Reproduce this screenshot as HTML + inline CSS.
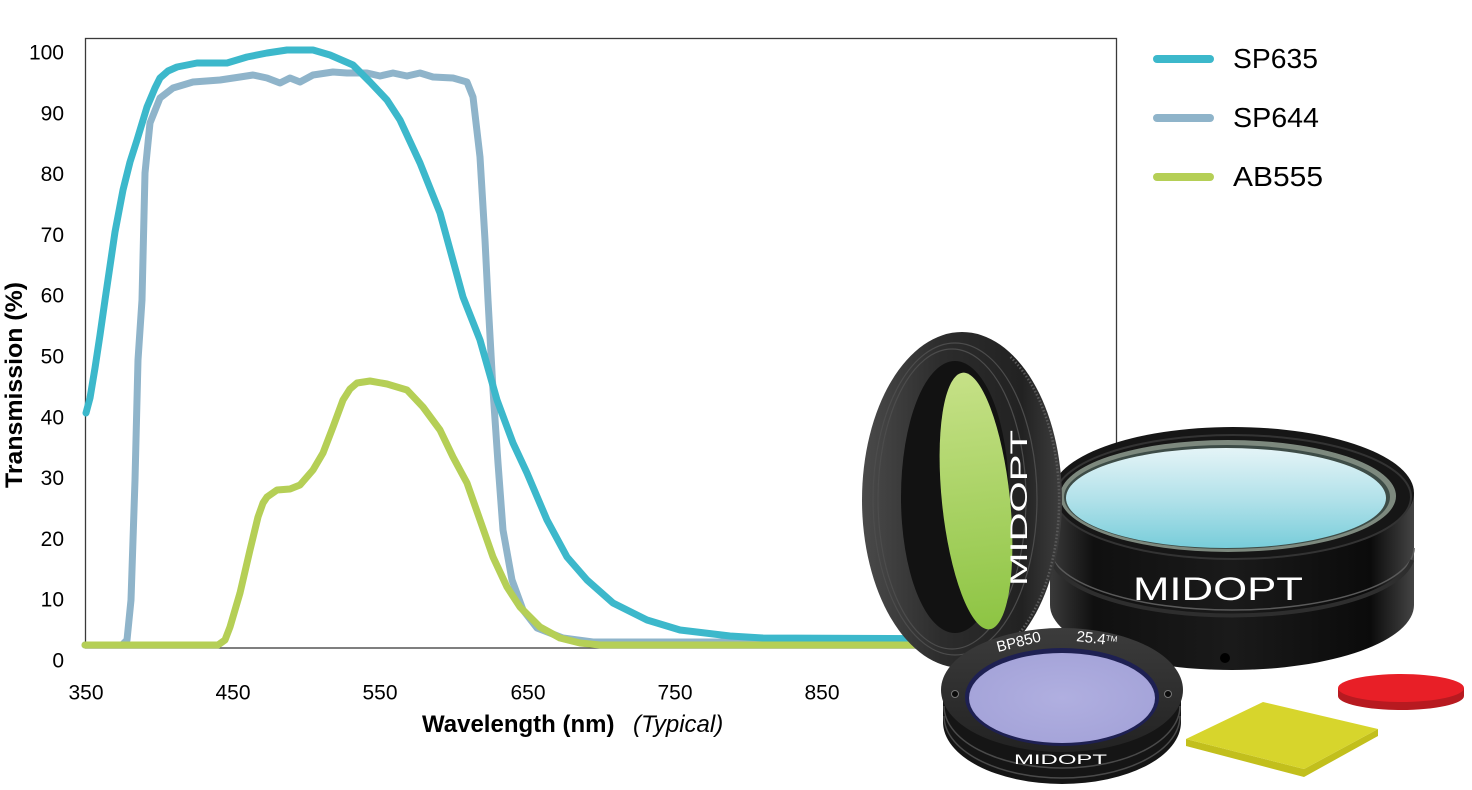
<!DOCTYPE html>
<html><head><meta charset="utf-8"><style>
html,body{margin:0;padding:0;background:#fff;}
svg{display:block;}
text{font-family:"Liberation Sans",Arial,sans-serif;}
</style></head><body>
<svg width="1472" height="790" viewBox="0 0 1472 790" xmlns="http://www.w3.org/2000/svg">
<defs>
<linearGradient id="cyan" x1="0" y1="0" x2="0" y2="1"><stop offset="0" stop-color="#e4f4f7"/><stop offset="0.5" stop-color="#b3e2ea"/><stop offset="1" stop-color="#78cdda"/></linearGradient>
<linearGradient id="body" x1="0" y1="0" x2="1" y2="0"><stop offset="0" stop-color="#3a3a3a"/><stop offset="0.12" stop-color="#101010"/><stop offset="0.5" stop-color="#1a1a1a"/><stop offset="0.88" stop-color="#0b0b0b"/><stop offset="1" stop-color="#444"/></linearGradient>
<linearGradient id="ring" x1="0" y1="0" x2="1" y2="0"><stop offset="0" stop-color="#4a4a4a"/><stop offset="0.4" stop-color="#2c2c2c"/><stop offset="0.8" stop-color="#222"/><stop offset="1" stop-color="#3e3e3e"/></linearGradient>
<linearGradient id="green" x1="0" y1="0" x2="0" y2="1"><stop offset="0" stop-color="#c6e187"/><stop offset="1" stop-color="#8dc443"/></linearGradient>
<linearGradient id="pface" x1="0" y1="0" x2="0" y2="1"><stop offset="0" stop-color="#3c3c3c"/><stop offset="1" stop-color="#222"/></linearGradient>
<radialGradient id="purple" cx="0.5" cy="0.5" r="0.6"><stop offset="0" stop-color="#b0afe0"/><stop offset="1" stop-color="#a3a2d8"/></radialGradient>
</defs>

<!-- plot frame -->
<rect x="85.5" y="38.5" width="1031" height="609.5" fill="#fff" stroke="#3a3a3a" stroke-width="1.3"/>

<!-- y tick labels -->
<g font-size="21" fill="#000" text-anchor="end">
<text x="64" y="59.5">100</text>
<text x="64" y="120.3">90</text>
<text x="64" y="181.1">80</text>
<text x="64" y="241.9">70</text>
<text x="64" y="302.7">60</text>
<text x="64" y="363.5">50</text>
<text x="64" y="424.3">40</text>
<text x="64" y="485.1">30</text>
<text x="64" y="545.9">20</text>
<text x="64" y="606.7">10</text>
<text x="64" y="667.5">0</text>
</g>
<!-- x tick labels -->
<g font-size="21" fill="#000" text-anchor="middle">
<text x="86" y="699.5">350</text>
<text x="233" y="699.5">450</text>
<text x="380" y="699.5">550</text>
<text x="528" y="699.5">650</text>
<text x="675" y="699.5">750</text>
<text x="822" y="699.5">850</text>
</g>
<!-- axis titles -->
<text x="422" y="732" font-size="24" font-weight="bold" fill="#000">Wavelength (nm)</text>
<text x="633" y="732" font-size="24" font-style="italic" fill="#000">(Typical)</text>
<text transform="translate(22,385) rotate(-90)" text-anchor="middle" font-size="24" font-weight="bold" fill="#000" textLength="206" lengthAdjust="spacingAndGlyphs">Transmission (%)</text>

<!-- series -->
<g fill="none" stroke-width="7" stroke-linejoin="round" stroke-linecap="round">
<path stroke="#8fb4ca" d="M85,645 L122,645 L127,640 L131,600 L135,480 L138,360 L142,300 L145,173 L150,123 L160,98 L173,88 L193,82 L220,80 L240,77 L253,75 L267,78 L280,83 L290,78 L300,82 L313,75 L333,72 L347,73 L367,73 L380,76 L393,73 L407,76 L420,73 L433,77 L453,78 L467,82 L473,97 L480,157 L485,240 L488,300 L493,390 L498,463 L503,530 L512,580 L523,610 L537,628 L563,638 L593,642 L1000,642"/>
<path stroke="#3cb8cb" d="M86,413 L90,398 L95,368 L100,335 L105,300 L115,232 L123,190 L130,162 L137,140 L147,107 L155,88 L160,78 L168,71 L177,67 L197,63 L227,63 L247,57 L267,53 L287,50 L313,50 L330,55 L353,65 L370,82 L387,100 L400,120 L420,163 L440,213 L463,297 L480,340 L497,400 L513,443 L527,473 L547,520 L567,557 L587,580 L613,603 L647,620 L680,630 L730,636 L763,638 L1000,639"/>
<path stroke="#b5cf56" d="M85,645 L218,645 L225,640 L230,627 L235,610 L240,593 L250,550 L258,517 L263,503 L267,497 L277,490 L290,489 L300,485 L313,470 L323,453 L333,427 L343,400 L350,389 L357,383 L370,381 L387,384 L407,390 L423,407 L440,430 L453,457 L467,483 L480,520 L493,557 L507,587 L520,607 L540,627 L560,638 L580,643 L600,645 L1000,645"/>
</g>

<!-- legend -->
<g stroke-width="8" stroke-linecap="round">
<line x1="1157" y1="59" x2="1210" y2="59" stroke="#3cb8cb"/>
<line x1="1157" y1="118" x2="1210" y2="118" stroke="#8fb4ca"/>
<line x1="1157" y1="177" x2="1210" y2="177" stroke="#b5cf56"/>
</g>
<g font-size="28" fill="#000">
<text x="1233" y="68" textLength="85" lengthAdjust="spacingAndGlyphs">SP635</text>
<text x="1233" y="127" textLength="86" lengthAdjust="spacingAndGlyphs">SP644</text>
<text x="1233" y="186" textLength="90" lengthAdjust="spacingAndGlyphs">AB555</text>
</g>

<!-- big cylinder -->
<g>
<path d="M1050,493 L1050,605 A182,65 0 0 0 1414,605 L1414,493 Z" fill="url(#body)"/>
<path d="M1050,548 A182,62 0 0 0 1414,548" fill="none" stroke="#5a5a5a" stroke-width="1.5"/>
<path d="M1052,560 A181,62 0 0 0 1412,560" fill="none" stroke="#2e2e2e" stroke-width="4"/>
<ellipse cx="1233" cy="493" rx="181" ry="66" fill="#161616"/>
<ellipse cx="1233" cy="497" rx="178" ry="62" fill="none" stroke="#333" stroke-width="2"/>
<ellipse cx="1228" cy="496" rx="168" ry="56" fill="#7d897e"/>
<ellipse cx="1227" cy="497" rx="163" ry="52" fill="#3d4c47"/>
<ellipse cx="1226" cy="498" rx="160" ry="50" fill="url(#cyan)"/>
<text x="1133" y="600" font-size="32" fill="#fff" textLength="170" lengthAdjust="spacingAndGlyphs">MIDOPT</text>
<circle cx="1225" cy="658" r="5" fill="#000"/>
</g>

<!-- green ring filter -->
<g>
<ellipse cx="962" cy="500" rx="100" ry="168" fill="url(#ring)"/>
<ellipse cx="955" cy="499" rx="82" ry="156" fill="none" stroke="#4c4c4c" stroke-width="1.2"/>
<ellipse cx="952" cy="499" rx="74" ry="150" fill="none" stroke="#4c4c4c" stroke-width="1.2"/>
<ellipse cx="955" cy="497" rx="54" ry="136" fill="#121212"/>
<ellipse cx="976" cy="501" rx="34" ry="129" transform="rotate(-6 976 501)" fill="url(#green)"/>
<path d="M1010.5,357 A97,165 0 0 1 1010.5,643" fill="none" stroke="#5a5a5a" stroke-width="2.5" stroke-dasharray="1.5 2"/>
<text transform="translate(1027,508) rotate(-90)" text-anchor="middle" font-size="24" fill="#fff" textLength="156" lengthAdjust="spacingAndGlyphs">MIDOPT</text>
</g>

<!-- purple filter -->
<g>
<ellipse cx="1062" cy="722" rx="119" ry="62" fill="#151515"/>
<rect x="943" y="690" width="238" height="32" fill="#151515"/>
<path d="M944,706 A118,62 0 0 0 1180,706" fill="none" stroke="#4a4a4a" stroke-width="1.5"/>
<path d="M944,716 A118,62 0 0 0 1180,716" fill="none" stroke="#4a4a4a" stroke-width="1.5"/>
<ellipse cx="1062" cy="690" rx="121" ry="62" fill="url(#pface)"/>
<ellipse cx="1062" cy="697" rx="97" ry="49" fill="#1e2052"/>
<ellipse cx="1062" cy="698" rx="93" ry="45" fill="url(#purple)"/>
<circle cx="955" cy="694" r="3.5" fill="#0b0b0b" stroke="#777" stroke-width="1"/>
<circle cx="1168" cy="694" r="3.5" fill="#0b0b0b" stroke="#777" stroke-width="1"/>
<text transform="translate(998,652) rotate(-14)" font-size="15" fill="#fff">BP850</text>
<text transform="translate(1076,641) rotate(7)" font-size="15" fill="#fff">25.4<tspan font-size="8" dy="-4">TM</tspan></text>
<text x="1014" y="764" font-size="14" fill="#fff" textLength="93" lengthAdjust="spacingAndGlyphs">MIDOPT</text>
</g>

<!-- red disc -->
<g>
<ellipse cx="1401" cy="696" rx="63" ry="14" fill="#b71a20"/>
<rect x="1338" y="688" width="126" height="8" fill="#b71a20"/>
<ellipse cx="1401" cy="688" rx="63" ry="14" fill="#e81f27"/>
</g>

<!-- yellow square -->
<g>
<polygon points="1186,739 1304,769 1378,729 1378,736 1304,777 1186,746" fill="#c2bf1c"/>
<polygon points="1186,739 1263,702 1378,729 1304,769" fill="#d7d52c"/>
</g>
</svg>
</body></html>
